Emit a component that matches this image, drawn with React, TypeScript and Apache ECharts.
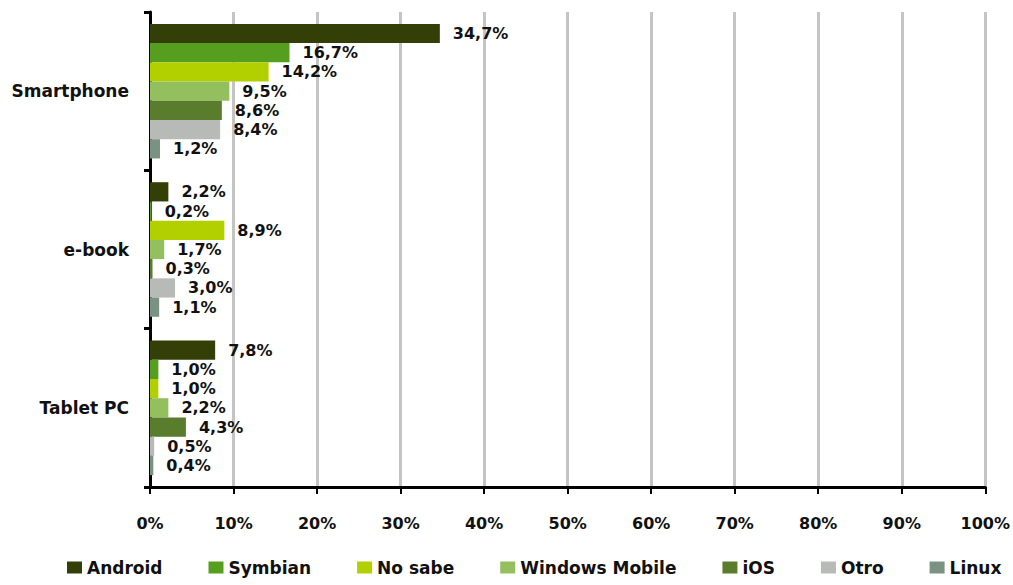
import React, { useEffect, useRef } from "react";
import * as echarts from "echarts";

const categories = ["Smartphone", "e-book", "Tablet PC"];
const seriesNames = ["Android", "Symbian", "No sabe", "Windows Mobile", "iOS", "Otro", "Linux"];
const android = [34.7, 2.2, 7.8];
const symbian = [16.7, 0.2, 1.0];
const noSabe = [14.2, 8.9, 1.0];
const windowsMobile = [9.5, 1.7, 2.2];
const ios = [8.6, 0.3, 4.3];
const otro = [8.4, 3.0, 0.5];
const linux = [1.2, 1.1, 0.4];
const seriesValues = [android, symbian, noSabe, windowsMobile, ios, otro, linux];
const colors = ["#333f07", "#559e1f", "#b2cf00", "#93bf5f", "#5a7d2d", "#b8bab8", "#7a9282"];

const FONT = "DejaVu Sans";

export default function App() {
  const ref = useRef<HTMLDivElement>(null);
  useEffect(() => {
    const chart = echarts.init(ref.current!, null, { renderer: "svg" });
    chart.setOption({
      animation: false,
      backgroundColor: "#ffffff",
      color: colors,
      textStyle: { fontFamily: FONT },
      grid: { left: 150, right: 26, top: 12, bottom: 98, containLabel: false },
      legend: {
        bottom: 4,
        left: 62,
        itemWidth: 15,
        itemHeight: 12,
        itemGap: 46,
        icon: "rect",
        textStyle: { fontFamily: FONT, fontWeight: "bold", fontSize: 17, color: "#111" },
        data: seriesNames,
      },
      xAxis: {
        type: "value",
        min: 0,
        max: 100,
        interval: 10,
        axisLine: { show: true, lineStyle: { color: "#000", width: 3 } },
        axisTick: { show: true, length: 7, lineStyle: { color: "#000", width: 2 } },
        splitLine: { show: true, lineStyle: { color: "#c4c4c4", width: 3 } },
        axisLabel: {
          formatter: "{value}%",
          margin: 28,
          fontFamily: FONT,
          fontWeight: "bold",
          fontSize: 16,
          color: "#111",
        },
      },
      yAxis: {
        type: "category",
        data: categories,
        inverse: true,
        axisLine: { show: true, lineStyle: { color: "#000", width: 3 } },
        axisTick: { show: true, length: 6, lineStyle: { color: "#000", width: 3 } },
        axisLabel: {
          margin: 21,
          fontFamily: FONT,
          fontWeight: "bold",
          fontSize: 17,
          color: "#111",
        },
      },
      series: seriesNames.map((name, i) => ({
        name,
        type: "bar",
        data: seriesValues[i],
        barGap: "0%",
        barCategoryGap: "15%",
        label: {
          show: true,
          position: "right",
          distance: 13,
          fontFamily: FONT,
          fontWeight: "bold",
          fontSize: 16,
          color: "#111",
          formatter: (p: any) => p.value.toFixed(1).replace(".", ",") + "%",
        },
      })),
    });
    return () => chart.dispose();
  }, []);
  return <div ref={ref} style={{ width: 1013, height: 585, position: "absolute", left: 0, top: 0 }} />;
}
